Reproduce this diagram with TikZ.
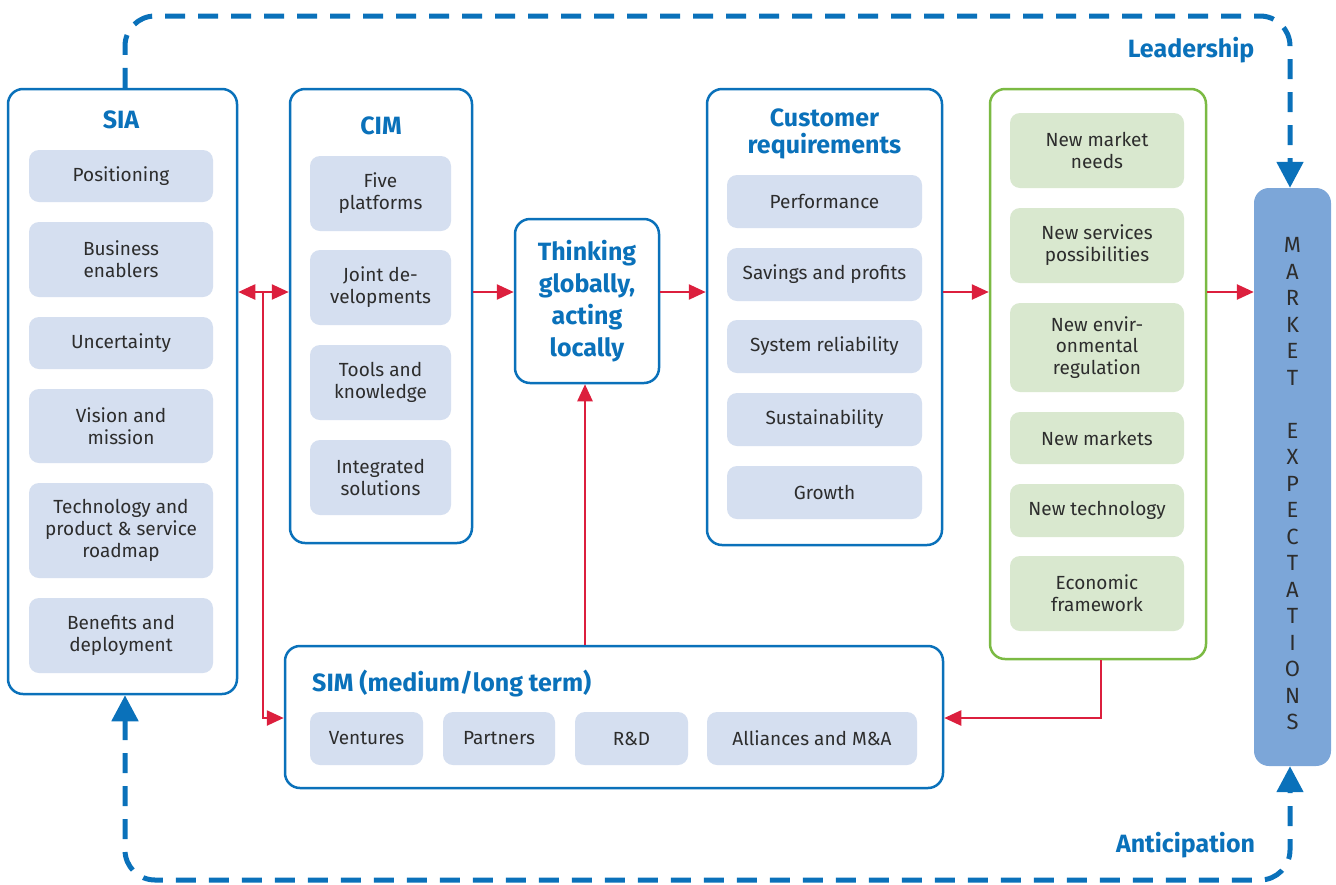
\documentclass[tikz,border=0pt]{standalone}
\usepackage{fontspec}
\setmainfont{Fira Sans}
\usetikzlibrary{arrows.meta}
\definecolor{dblue}{HTML}{0A71BA}
\definecolor{itemfill}{HTML}{D5DFF0}
\definecolor{gfill}{HTML}{D9E8CF}
\definecolor{gline}{HTML}{7BBA43}
\definecolor{mfill}{HTML}{7CA6D8}
\definecolor{flowred}{HTML}{DC1F3D}
\definecolor{txt}{HTML}{2D2D2D}
\tikzset{
  looptip/.tip={Triangle[length=26pt,width=26pt]},
  flowtip/.tip={Triangle[length=17pt,width=15pt]},
  frame/.style={draw=dblue, line width=2.5pt, rounded corners=15pt, fill=white, inner sep=0pt},
  gframe/.style={frame, draw=gline},
  item/.style={fill=itemfill, rounded corners=10pt, text=txt, align=center, inner sep=0pt,
    font=\fontsize{19}{21.8}\selectfont},
  gitem/.style={item, fill=gfill},
  title/.style={text=dblue, align=center, inner sep=0pt, font=\bfseries\fontsize{25}{27}\selectfont},
  flow/.style={draw=flowred, line width=2.5pt, -{flowtip}},
  loopline/.style={draw=dblue, line width=5pt, dash pattern=on 20pt off 13pt, rounded corners=30pt}
}
\begin{document}
\begin{tikzpicture}[x=1pt,y=-1pt]
\useasboundingbox (0,0) rectangle (1336,884);

% ---------- SIA ----------
\node[frame, minimum width=229, minimum height=605] (sia) at (122.5,391.5) {};
\node[title] (siat) at (121,120) {SIA};
\node[item, minimum width=184, minimum height=52] (s1) at (121,176) {Positioning};
\node[item, minimum width=184, minimum height=75] (s2) at (121,259.5) {Business\\enablers};
\node[item, minimum width=184, minimum height=52] (s3) at (121,343) {Uncertainty};
\node[item, minimum width=184, minimum height=74] (s4) at (121,426) {Vision and\\mission};
\node[item, minimum width=184, minimum height=95] (s5) at (121,530.5) {Technology and\\product \& service\\roadmap};
\node[item, minimum width=184, minimum height=75] (s6) at (121,635.5) {Benefits and\\deployment};

% ---------- CIM ----------
\node[frame, minimum width=182, minimum height=454] (cim) at (381,316) {};
\node[title] (cimt) at (381,126) {CIM};
\node[item, minimum width=141, minimum height=75] (c1) at (380.5,193.5) {Five\\platforms};
\node[item, minimum width=141, minimum height=75] (c2) at (380.5,287.5) {Joint de-\\velopments};
\node[item, minimum width=141, minimum height=75] (c3) at (380.5,382.5) {Tools and\\knowledge};
\node[item, minimum width=141, minimum height=75] (c4) at (380.5,477.5) {Integrated\\solutions};

% ---------- Thinking globally ----------
\node[frame, minimum width=144, minimum height=164,
      font=\bfseries\fontsize{25}{32}\selectfont, text=dblue, align=center] (think) at (587,301)
      {Thinking\\globally,\\acting\\locally};

% ---------- Customer requirements ----------
\node[frame, minimum width=235, minimum height=456] (cus) at (824.5,317) {};
\node[title] (cust) at (824.5,133.5) {Customer\\requirements};
\node[item, minimum width=195, minimum height=53] (r1) at (824.5,201.5) {Performance};
\node[item, minimum width=195, minimum height=53] (r2) at (824.5,274.5) {Savings and profits};
\node[item, minimum width=195, minimum height=53] (r3) at (824.5,346.5) {System reliability};
\node[item, minimum width=195, minimum height=53] (r4) at (824.5,419.5) {Sustainability};
\node[item, minimum width=195, minimum height=53] (r5) at (824.5,492.5) {Growth};

% ---------- Drivers (green) ----------
\node[gframe, minimum width=216, minimum height=570] (grn) at (1098,374) {};
\node[gitem, minimum width=174, minimum height=75] (g1) at (1097,150.5) {New market\\needs};
\node[gitem, minimum width=174, minimum height=75] (g2) at (1097,245.5) {New services\\possibilities};
\node[gitem, minimum width=174, minimum height=89] (g3) at (1097,347.5) {New envir-\\onmental\\regulation};
\node[gitem, minimum width=174, minimum height=52] (g4) at (1097,438) {New markets};
\node[gitem, minimum width=174, minimum height=53] (g5) at (1097,510.5) {New technology};
\node[gitem, minimum width=174, minimum height=75] (g6) at (1097,593.5) {Economic\\framework};

% ---------- Market expectations ----------
\node[fill=mfill, rounded corners=15pt, minimum width=77, minimum height=578, inner sep=0pt] (mkt) at (1292.5,477) {};
\node[text=txt, align=center, inner sep=0pt, font=\fontsize{22}{26.5}\selectfont] (mktt) at (1292.5,484)
  {M\\A\\R\\K\\E\\T\\[26.5pt]E\\X\\P\\E\\C\\T\\A\\T\\I\\O\\N\\S};

% ---------- SIM ----------
\node[frame, minimum width=658, minimum height=142] (sim) at (614,717) {};
\node[title, anchor=west] (simt) at (312,684) {SIM (medium/long term)};
\node[item, minimum width=113, minimum height=53] (m1) at (366.5,738.5) {Ventures};
\node[item, minimum width=112, minimum height=53] (m2) at (499,738.5) {Partners};
\node[item, minimum width=113, minimum height=53] (m3) at (631.5,738.5) {R\&D};
\node[item, minimum width=210, minimum height=53] (m4) at (812,738.5) {Alliances and M\&A};

% ---------- labels ----------
\node[title] (lead) at (1191,50) {Leadership};
\node[title] (anti) at (1185.5,845) {Anticipation};

% ---------- red flows ----------
\coordinate (row) at (0,292);
\coordinate (split) at (263,292);
\draw[flow, {flowtip}-{flowtip}] (sia.east |- row) -- (cim.west |- row);
\draw[flow] (split) |- (sim.west |- 0,718);
\draw[flow] (cim.east |- row) -- (think.west |- row);
\draw[flow] (think.east |- row) -- (cus.west |- row);
\draw[flow] (cus.east |- row) -- (grn.west |- row);
\draw[flow] (grn.east |- row) -- (mkt.west |- row);
\draw[flow] (sim.north -| 585,0) -- (think.south -| 585,0);
\draw[flow] (grn.south -| 1101,0) |- (sim.east |- 0,718);

% ---------- dashed feedback loop ----------
\coordinate (ltop) at (700,16);
\coordinate (lbot) at (700,880);
\draw[loopline, -{looptip}] (sia.north -| 125,0) |- (ltop) -| (mkt.north -| 1290,0);
\draw[loopline, {looptip}-{looptip}] (sia.south -| 125,0) |- (lbot) -| (mkt.south -| 1290,0);
\end{tikzpicture}
\end{document}
